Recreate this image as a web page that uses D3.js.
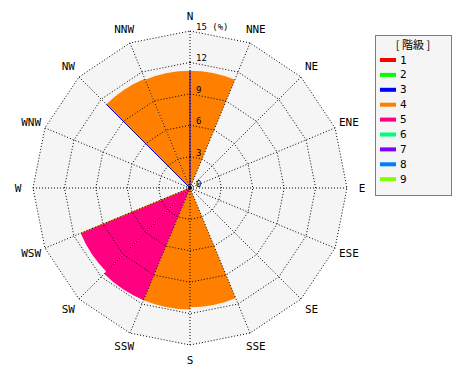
<!DOCTYPE html>
<html>
<head>
<meta charset="utf-8">
<script src="https://cdn.jsdelivr.net/npm/d3@7"></script>
<style>
  body { margin: 0; background: #fff; }
  svg { display: block; }
  text { font-family: "DejaVu Sans Mono", monospace; fill: #000; }
</style>
</head>
<body>
<svg id="chart" width="470" height="380"></svg>
<script>
// directions, clockwise from north
const directions = ['N','NNE','NE','ENE','E','ESE','SE','SSE','S','SSW','SW','WSW','W','WNW','NW','NNW'];
// frequency (%) per direction and the class it belongs to
const freqValues = [11.2, 0, 0, 0, 0, 0, 0, 11.4, 11.6, 11.6, 11.3, 0, 0, 0, 11.3, 11.2];
const freqClass  = [4, 0, 0, 0, 0, 0, 0, 4, 4, 5, 5, 0, 0, 0, 4, 4];
// thin edge lines seen on the wedges
const edgeDirs    = ['N', 'NW', 'WSW'];
const edgeValues  = [11.2, 11.3, 11.3];
const edgeClasses = [3, 3, 4];
// radial ticks
const tickValues = [0, 3, 6, 9, 12, 15];
const tickLabels = ['0', '3', '6', '9', '12', '15 (%)'];
// legend
const classNames  = ['1','2','3','4','5','6','7','8','9'];
const classColors = ['#ff0000','#00ff00','#0000ff','#ff8000','#ff0080','#00ff80','#8000ff','#0080ff','#80ff00'];

const cx = 190, cy = 188;
const svg = d3.select('#chart');
const r = d3.scaleLinear().domain([0, 15]).range([0, 157]);
const ang = d3.scaleLinear().domain([0, directions.length]).range([0, 2 * Math.PI]);
const colorOf = c => classColors[c - 1];
const pt = (a, rr) => [cx + rr * Math.sin(a), cy - rr * Math.cos(a)];

const g = svg.append('g');

// background polygon
const outer = directions.map((d, i) => pt(ang(i), r(15)));
g.append('polygon')
  .attr('points', outer.map(p => p.join(',')).join(' '))
  .attr('fill', '#f5f5f5');

// wedges
const arc = d3.arc().innerRadius(0);
g.append('g')
  .attr('transform', `translate(${cx},${cy})`)
  .selectAll('path')
  .data(directions.map((d, i) => ({ i, v: freqValues[i], c: freqClass[i] })).filter(d => d.v > 0))
  .join('path')
    .attr('fill', d => colorOf(d.c))
    .attr('d', d => arc({ outerRadius: r(d.v), startAngle: ang(d.i), endAngle: ang(d.i + 1) }));

// edge lines
edgeDirs.forEach((d, k) => {
  const a = ang(directions.indexOf(d));
  const [x2, y2] = pt(a, r(edgeValues[k]));
  g.append('line')
    .attr('x1', cx).attr('y1', cy).attr('x2', x2).attr('y2', y2)
    .attr('stroke', colorOf(edgeClasses[k])).attr('stroke-width', 1);
});

// grid rings
tickValues.filter(v => v > 0).forEach(v => {
  const pts = directions.map((d, i) => pt(ang(i), r(v)));
  g.append('polygon')
    .attr('points', pts.map(p => p.join(',')).join(' '))
    .attr('fill', 'none').attr('stroke', '#000')
    .attr('stroke-width', 1).attr('stroke-dasharray', '1,2');
});

// spokes
directions.forEach((d, i) => {
  const [x2, y2] = pt(ang(i), r(15));
  g.append('line')
    .attr('x1', cx).attr('y1', cy).attr('x2', x2).attr('y2', y2)
    .attr('stroke', '#000').attr('stroke-width', 1).attr('stroke-dasharray', '1,2');
});

// center dot
g.append('circle').attr('cx', cx).attr('cy', cy).attr('r', 2).attr('fill', '#000');

// tick labels along the N spoke
g.selectAll('text.tick')
  .data(tickValues)
  .join('text')
    .attr('class', 'tick')
    .attr('x', cx + 6)
    .attr('y', v => cy - r(v) - 1)
    .attr('font-size', 9)
    .text((v, i) => tickLabels[i]);

// direction labels
g.selectAll('text.dir')
  .data(directions)
  .join('text')
    .attr('class', 'dir')
    .attr('x', (d, i) => pt(ang(i), 172)[0])
    .attr('y', (d, i) => pt(ang(i), 172)[1])
    .attr('text-anchor', 'middle')
    .attr('dominant-baseline', 'central')
    .attr('font-size', 11)
    .text(d => d);

// legend
const lg = svg.append('g').attr('transform', 'translate(375,35)');
lg.append('rect')
  .attr('x', 0.5).attr('y', 0.5).attr('width', 76).attr('height', 160)
  .attr('fill', '#f5f5f5').attr('stroke', '#000').attr('stroke-dasharray', '1,1');
lg.append('text')
  .attr('x', 38).attr('y', 9)
  .attr('text-anchor', 'middle')
  .attr('dominant-baseline', 'central')
  .attr('font-size', 11)
  .style('font-family', '"Noto Sans CJK JP", monospace')
  .text('[ 階級 ]');
const item = lg.selectAll('g.item')
  .data(classNames)
  .join('g')
    .attr('class', 'item')
    .attr('transform', (d, i) => `translate(5,${25 + i * 14.9})`);
item.append('rect')
  .attr('x', 0).attr('y', -2).attr('width', 16).attr('height', 4)
  .attr('fill', (d, i) => classColors[i]);
item.append('text')
  .attr('x', 20).attr('y', 0)
  .attr('dominant-baseline', 'central')
  .attr('font-size', 11)
  .text(d => d);
</script>
</body>
</html>
